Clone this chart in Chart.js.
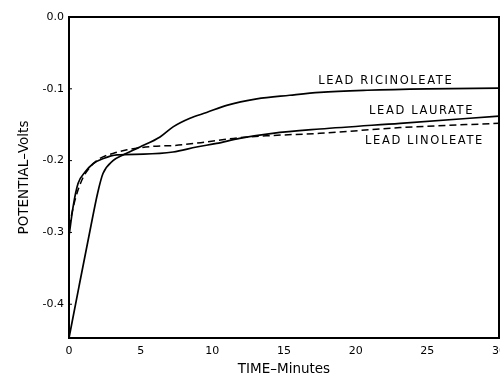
<!DOCTYPE html>
<html>
<head>
<meta charset="utf-8">
<script src="https://cdn.jsdelivr.net/npm/chart.js@4/dist/chart.umd.min.js"></script>
<style>
  html, body { margin: 0; padding: 0; background: #fff; overflow: hidden; }
  #wrap { position: absolute; left: 0; top: 0; width: 530px; height: 382px; }
</style>
</head>
<body>
<div id="wrap"><canvas id="c"></canvas></div>
<script>
// Time (minutes) and potential (volts)
const ricinoleateTime = [0, 0.7, 1.47, 2.0, 2.37, 3.07, 3.77, 4.95, 6.35, 7.26, 8.44, 9.6, 11.0, 13.1, 15.4, 17.5, 20.8, 25.0, 30.0];
const ricinoleateV    = [-0.447, -0.375, -0.297, -0.245, -0.218, -0.200, -0.192, -0.181, -0.167, -0.153, -0.141, -0.133, -0.123, -0.114, -0.109, -0.105, -0.102, -0.100, -0.099];

const laurateTime = [0, 0.28, 0.63, 1.12, 1.7, 2.4, 3.35, 5.2, 7.26, 8.9, 10.3, 11.9, 14.2, 17.5, 23.1, 30.0];
const laurateV    = [-0.305, -0.265, -0.232, -0.216, -0.204, -0.197, -0.192, -0.191, -0.188, -0.181, -0.176, -0.169, -0.162, -0.156, -0.148, -0.138];

const linoleateTime = [0, 0.42, 0.9, 1.47, 2.16, 3.07, 4.05, 5.9, 7.26, 9.6, 11.9, 14.2, 17.5, 23.1, 30.0];
const linoleateV    = [-0.292, -0.255, -0.227, -0.209, -0.197, -0.190, -0.185, -0.180, -0.179, -0.174, -0.168, -0.165, -0.162, -0.154, -0.148];

const xTicks = [0, 5, 10, 15, 20, 25, 30];
const yTicks = [0.0, -0.1, -0.2, -0.3, -0.4];

const seriesLabels = ['LEAD RICINOLEATE', 'LEAD LAURATE', 'LEAD LINOLEATE'];
const labelAnchors = [[22.1, -0.089], [24.6, -0.131], [24.8, -0.173]];

function pts(ts, vs) { return ts.map((t, i) => ({ x: t, y: vs[i] })); }

const FONT = "'DejaVu Sans', 'Liberation Sans', sans-serif";

const framePlugin = {
  id: 'frame',
  afterDatasetsDraw(chart) {
    const { ctx, chartArea: a } = chart;
    ctx.save();
    ctx.strokeStyle = '#000';
    ctx.lineWidth = 2;
    ctx.strokeRect(a.left, a.top, a.right - a.left, a.bottom - a.top);
    ctx.lineWidth = 1;
    const ys = chart.scales.y;
    yTicks.forEach(v => {
      const py = ys.getPixelForValue(v);
      ctx.beginPath(); ctx.moveTo(a.left, py); ctx.lineTo(a.left + 3, py); ctx.stroke();
    });
    const xs = chart.scales.x;
    ctx.fillStyle = '#000';
    ctx.font = "500 11.5px " + FONT;
    ctx.textAlign = 'center';
    ctx.textBaseline = 'middle';
    if ('letterSpacing' in ctx) ctx.letterSpacing = '1.6px';
    seriesLabels.forEach((s, i) => {
      ctx.fillText(s, xs.getPixelForValue(labelAnchors[i][0]), ys.getPixelForValue(labelAnchors[i][1]));
    });
    ctx.restore();
  }
};

new Chart(document.getElementById('c'), {
  type: 'line',
  data: {
    datasets: [
      { label: seriesLabels[0], data: pts(ricinoleateTime, ricinoleateV), borderColor: '#000', borderWidth: 1.7, pointRadius: 0, fill: false, cubicInterpolationMode: 'monotone' },
      { label: seriesLabels[1], data: pts(laurateTime, laurateV), borderColor: '#000', borderWidth: 1.7, pointRadius: 0, fill: false, cubicInterpolationMode: 'monotone' },
      { label: seriesLabels[2], data: pts(linoleateTime, linoleateV), borderColor: '#000', borderWidth: 1.5, borderDash: [7, 4], pointRadius: 0, fill: false, cubicInterpolationMode: 'monotone' }
    ]
  },
  options: {
    responsive: true,
    maintainAspectRatio: false,
    animation: false,
    layout: { padding: { top: 17, right: 31, left: 12, bottom: 0 } },
    plugins: { legend: { display: false }, tooltip: { enabled: false } },
    scales: {
      x: {
        type: 'linear', min: 0, max: 30,
        afterBuildTicks(s) { s.ticks = xTicks.map(v => ({ value: v })); },
        afterFit(s) { s.height = 44; },
        grid: { display: false, drawTicks: false },
        border: { display: false },
        ticks: { color: '#000', font: { family: FONT, size: 11 }, padding: 7, maxRotation: 0, autoSkip: false,
                 callback: v => String(v) },
        title: { display: true, text: 'TIME–Minutes', color: '#000', font: { family: FONT, size: 13.5 }, padding: { top: 0 } }
      },
      y: {
        type: 'linear', min: -0.447, max: 0,
        afterBuildTicks(s) { s.ticks = yTicks.map(v => ({ value: v })); },
        afterFit(s) { s.width = 57; },
        grid: { display: false, drawTicks: false },
        border: { display: false },
        ticks: { color: '#000', font: { family: FONT, size: 11 }, padding: 5, autoSkip: false,
                 callback: v => (v === 0 ? '0.0' : v.toFixed(1)) },
        title: { display: true, text: 'POTENTIAL–Volts', color: '#000', font: { family: FONT, size: 13.5 }, padding: { bottom: 4 } }
      }
    }
  },
  plugins: [framePlugin]
});
</script>
</body>
</html>
